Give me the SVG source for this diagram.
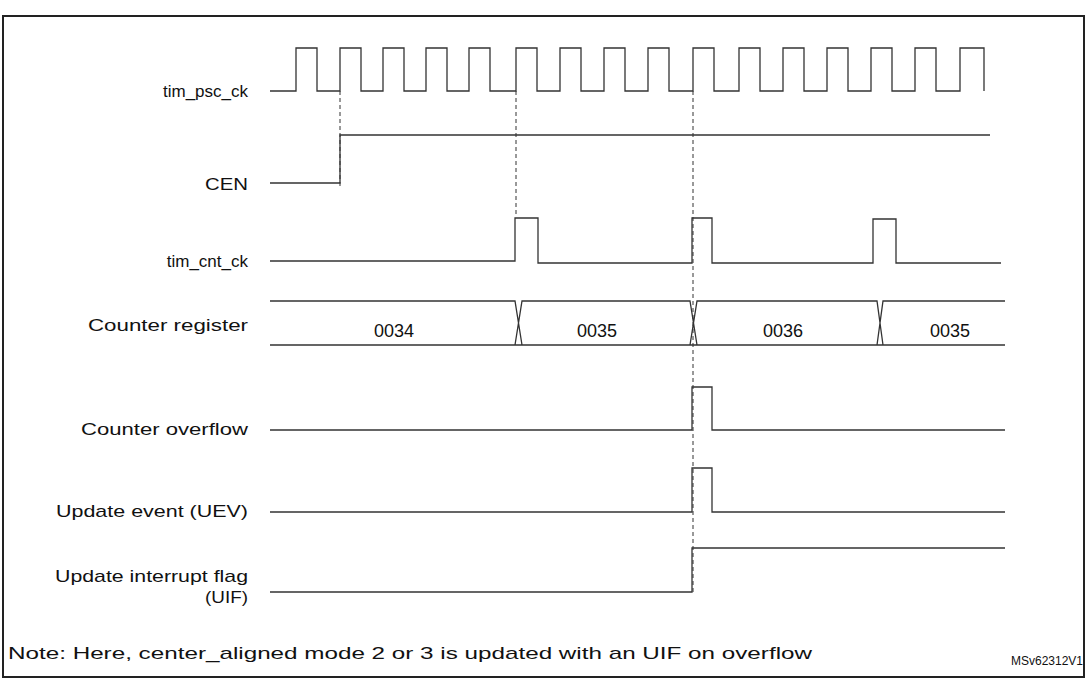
<svg xmlns="http://www.w3.org/2000/svg" width="1087" height="679" viewBox="0 0 1087 679">
<style>
.s{fill:none;stroke:#333;stroke-width:1.3}
.d{fill:none;stroke:#333;stroke-width:1;stroke-dasharray:4,3}
text{font-family:"Liberation Sans",Arial,sans-serif;font-size:17px;fill:#111}
.l{text-anchor:end}
.v{text-anchor:middle;font-size:18px}
</style>
<rect x="0" y="0" width="1087" height="679" fill="#fff"/>
<rect x="3" y="16" width="1081" height="661" fill="none" stroke="#222" stroke-width="2"/>
<g id="connectors">
<path class="d" d="M340 91V187M516 91V216M693 91V592"/>
</g>
<g id="tim_psc_ck">
<text class="l" x="248" y="97">tim_psc_ck</text>
<path class="s" d="M270 91H296V48H317V91H340V48H361V91H383V48H404V91H426V48H447V91H469V48H490V91H516V48H537V91H560V48H581V91H604V48H625V91H648V48H669V91H693V48H714V91H739V48H760V91H783V48H804V91H827V48H848V91H871V48H892V91H915V48H936V91H960V48H984V91"/>
</g>
<g id="CEN">
<text class="l" x="248" y="190" textLength="43" lengthAdjust="spacingAndGlyphs">CEN</text>
<path class="s" d="M270 183H340V135H990"/>
</g>
<g id="tim_cnt_ck">
<text class="l" x="248" y="267">tim_cnt_ck</text>
<path class="s" d="M270 261H515V218H538V263H692V218H712V263H873V219H896V263H1001"/>
</g>
<g id="counter_register">
<text class="l" x="248" y="331" textLength="160" lengthAdjust="spacingAndGlyphs">Counter register</text>
<path class="s" d="M270 301H515L522 345H270M515 345L522 301H690L697 345H522M690 345L697 301H877L883 345H697M877 345L883 301H1005M883 345H1005"/>
<text class="v" x="394" y="337">0034</text>
<text class="v" x="597" y="337">0035</text>
<text class="v" x="783" y="337">0036</text>
<text class="v" x="950" y="337">0035</text>
</g>
<g id="counter_overflow">
<text class="l" x="248" y="435" textLength="167" lengthAdjust="spacingAndGlyphs">Counter overflow</text>
<path class="s" d="M270 430H692V387H712V430H1005"/>
</g>
<g id="uev">
<text class="l" x="248" y="517" textLength="192" lengthAdjust="spacingAndGlyphs">Update event (UEV)</text>
<path class="s" d="M270 512H692V468H712V512H1005"/>
</g>
<g id="uif">
<text class="l" x="248" y="582" textLength="193" lengthAdjust="spacingAndGlyphs">Update interrupt flag</text>
<text class="l" x="248" y="603" textLength="43" lengthAdjust="spacingAndGlyphs">(UIF)</text>
<path class="s" d="M270 592H692V548H1005"/>
</g>
<text x="8" y="659" textLength="804" lengthAdjust="spacingAndGlyphs">Note: Here, center_aligned mode 2 or 3 is updated with an UIF on overflow</text>
<text x="1083" y="665" style="font-size:12px;text-anchor:end">MSv62312V1</text>
</svg>
